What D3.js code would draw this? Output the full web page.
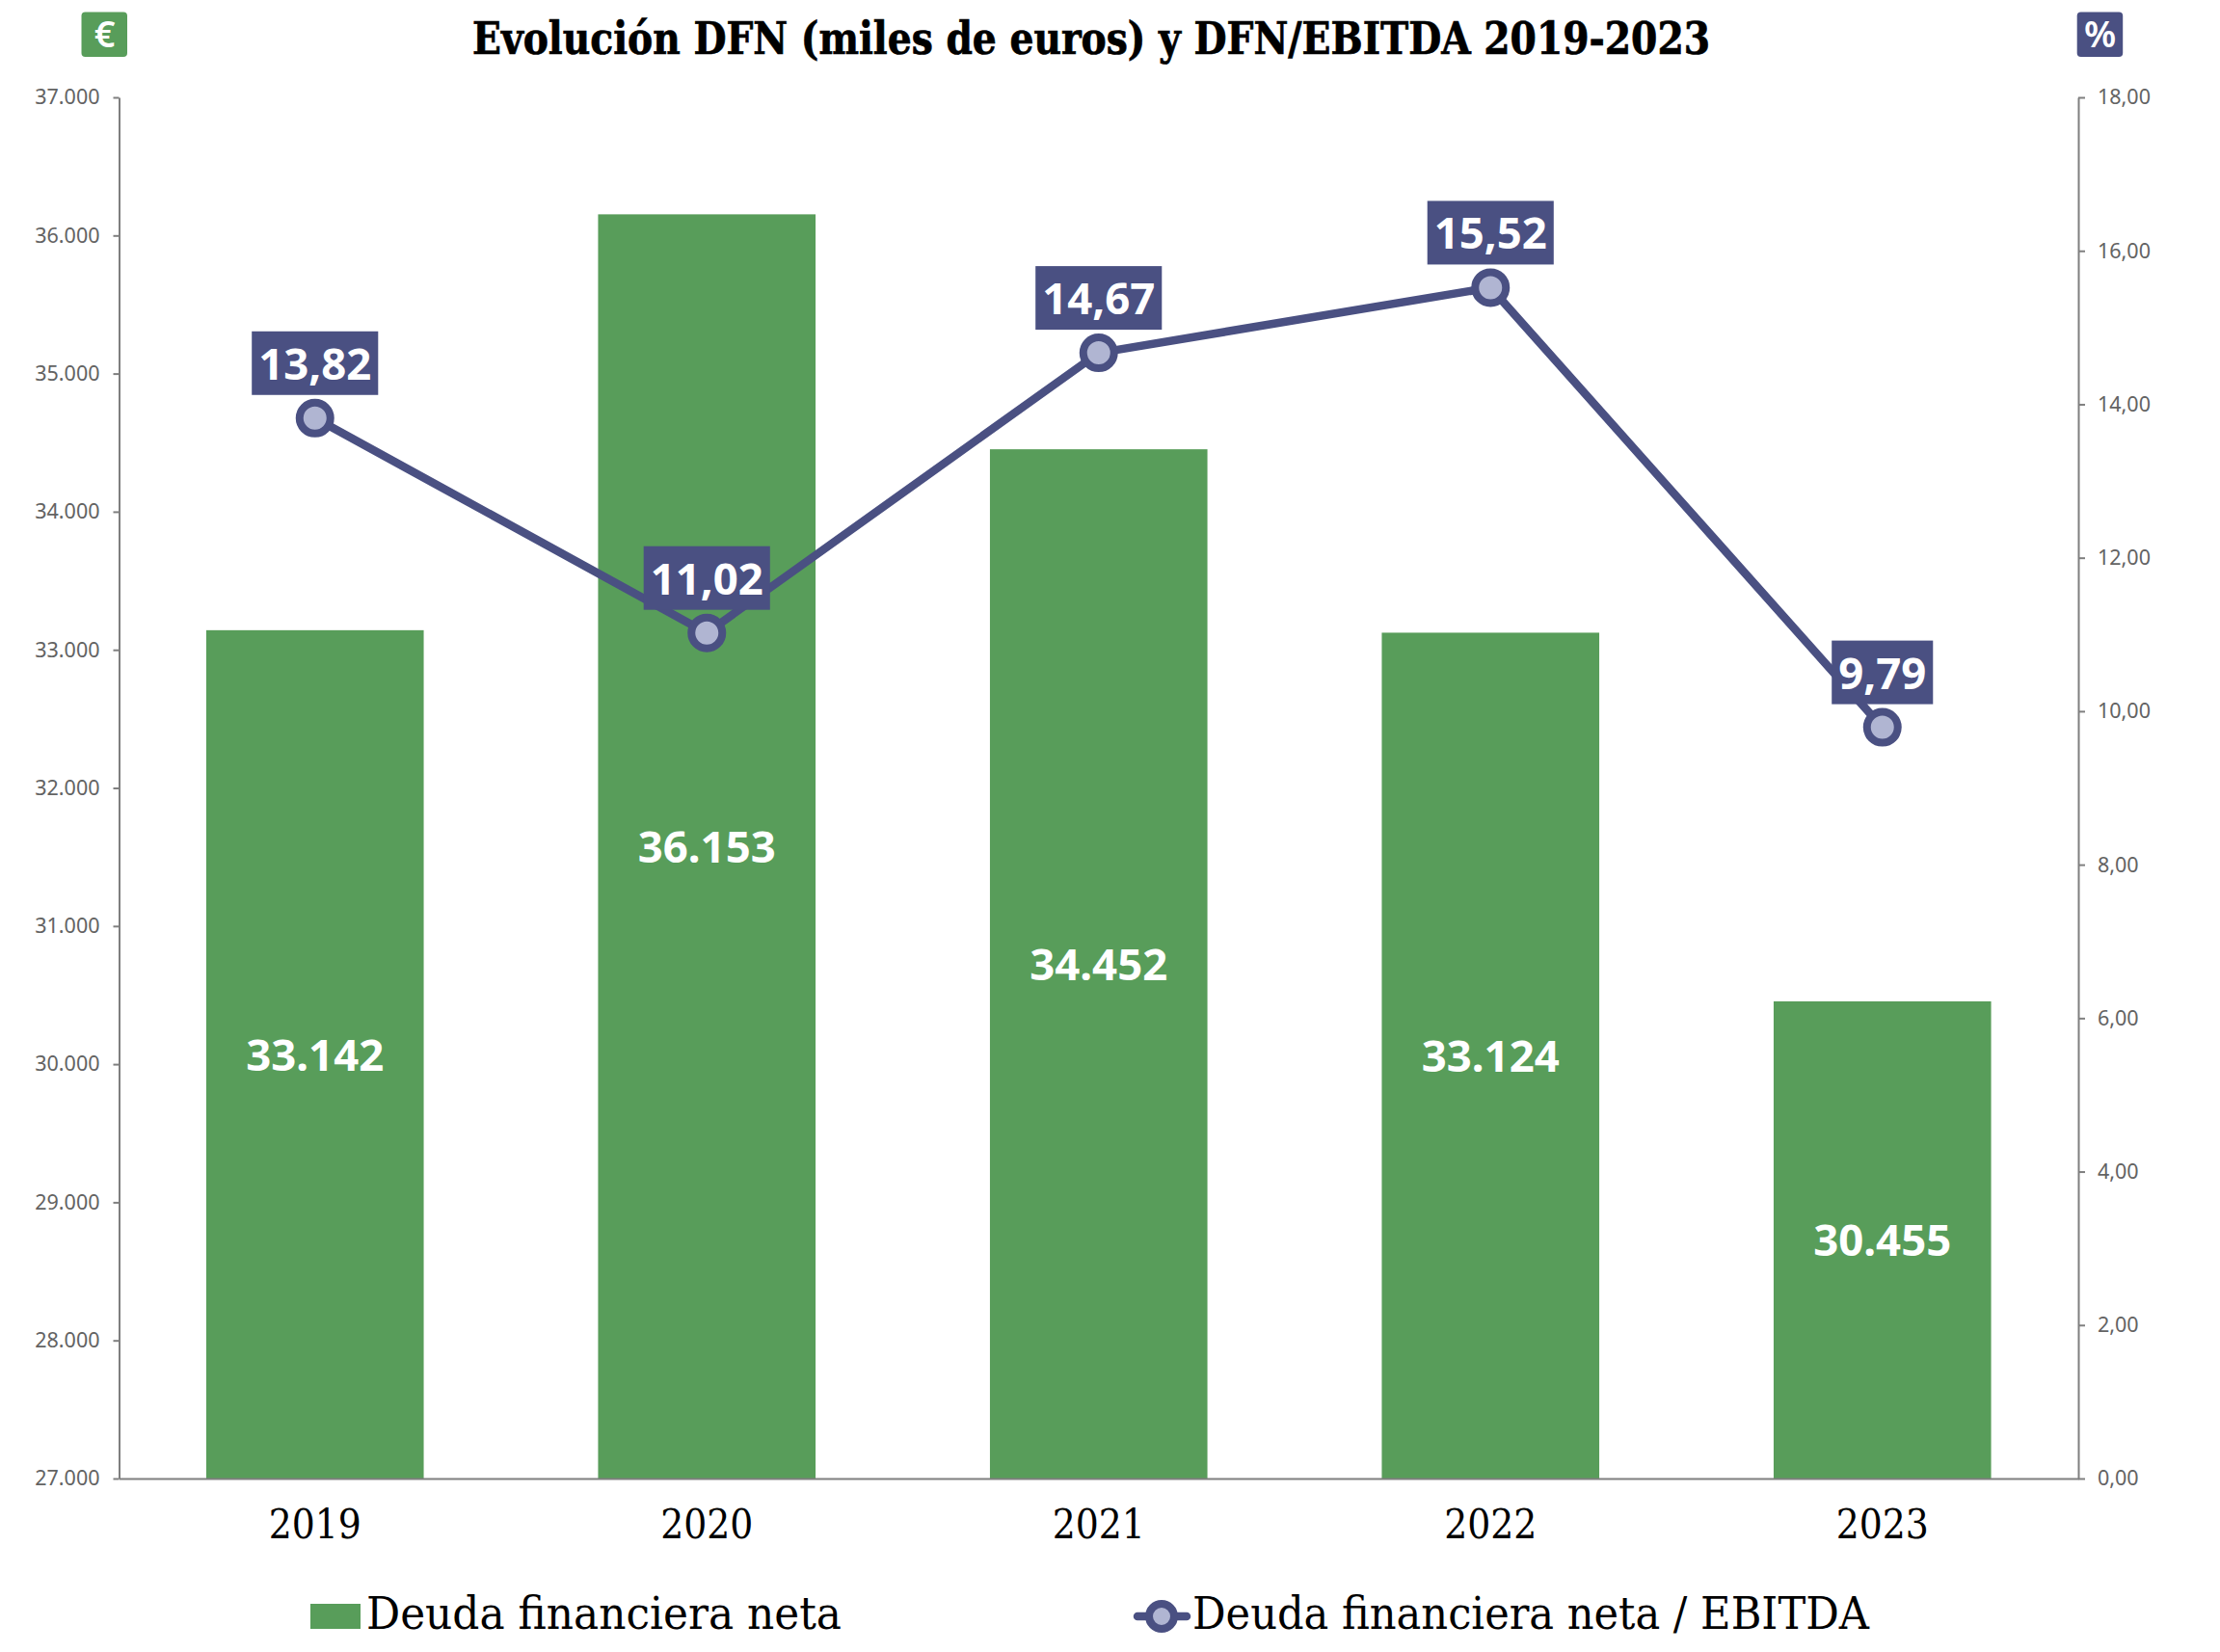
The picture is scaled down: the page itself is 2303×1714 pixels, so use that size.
<!DOCTYPE html>
<html>
<head>
<meta charset="utf-8">
<script src="https://cdn.jsdelivr.net/npm/d3@7"></script>
<style>
html, body { margin: 0; padding: 0; background: #fff; }
svg { display: block; }
</style>
</head>
<body>
<svg id="drawing_region"></svg>
<script>
const years = ["2019", "2020", "2021", "2022", "2023"];
const deuda = [33142, 36153, 34452, 33124, 30455];
const ratio = [13.82, 11.02, 14.67, 15.52, 9.79];
const leftTicks = d3.range(27000, 37001, 1000);
const rightTicks = d3.range(0, 18.01, 2);

const width = 2303, height = 1714;
const margin = { left: 123.5, right: 147, top: 101, bottom: 180 };
const green = "#589d5a", navy = "#4a5082", light = "#b0b5d2", gray = "#7f7f7f";
const slab = "'DejaVu Serif Condensed', 'DejaVu Serif', serif";
const sans = "'Noto Sans', sans-serif";

const es = d3.formatLocale({ decimal: ",", thousands: ".", grouping: [3], currency: ["", " €"] });
const fmtMiles = es.format(",d");
const fmtRatio = es.format(".2f");

const svg = d3.select("#drawing_region").attr("width", width).attr("height", height);

const x = d3.scaleBand().domain(years).range([margin.left, width - margin.right]).paddingInner(0.445).paddingOuter(0.2225);
const yLeft = d3.scaleLinear().domain([27000, 37000]).range([height - margin.bottom, margin.top]);
const yRight = d3.scaleLinear().domain([0, 18]).range([height - margin.bottom, margin.top]);
const cx = d => x(d) + x.bandwidth() / 2;

// barras
svg.selectAll("rect.bar").data(deuda).enter().append("rect")
    .attr("class", "bar")
    .attr("x", (d, i) => x(years[i]))
    .attr("y", d => yLeft(d))
    .attr("width", x.bandwidth())
    .attr("height", d => yLeft(27000) - yLeft(d))
    .attr("fill", green);

svg.selectAll("text.barlabel").data(deuda).enter().append("text")
    .attr("class", "barlabel")
    .attr("x", (d, i) => cx(years[i]))
    .attr("y", d => (yLeft(d) + yLeft(27000)) / 2 + 17)
    .attr("text-anchor", "middle")
    .attr("font-family", sans).attr("font-weight", 700).attr("font-size", 45.5)
    .attr("fill", "#fff")
    .text(d => fmtMiles(d));

// ejes
const axisLeft = svg.append("g").attr("transform", `translate(${margin.left},0)`)
    .call(d3.axisLeft(yLeft).tickValues(leftTicks).tickFormat(fmtMiles).tickSize(6).tickSizeOuter(0).tickPadding(14));
const axisRight = svg.append("g").attr("transform", `translate(${width - margin.right},0)`)
    .call(d3.axisRight(yRight).tickValues(rightTicks).tickFormat(fmtRatio).tickSize(7).tickSizeOuter(0).tickPadding(13));
const axisBottom = svg.append("g").attr("transform", `translate(0,${height - margin.bottom})`)
    .call(d3.axisBottom(x).tickSize(0).tickPadding(32));

[axisLeft, axisRight].forEach(g => {
    g.selectAll("text").attr("font-family", sans).attr("font-size", 21.5).attr("fill", "#636363");
});
[axisLeft, axisRight, axisBottom].forEach(g => {
    g.selectAll("path, line").attr("stroke", gray).attr("stroke-width", 2);
});
axisBottom.selectAll("text").attr("font-family", slab).attr("font-size", 42).attr("fill", "#000");

// linea
const line = d3.line().x((d, i) => cx(years[i])).y(d => yRight(d));
svg.append("path").datum(ratio)
    .attr("d", line)
    .attr("fill", "none")
    .attr("stroke", navy)
    .attr("stroke-width", 8.5)
    .attr("stroke-linejoin", "round");

svg.selectAll("circle.punto").data(ratio).enter().append("circle")
    .attr("class", "punto")
    .attr("cx", (d, i) => cx(years[i]))
    .attr("cy", d => yRight(d))
    .attr("r", 16)
    .attr("fill", light)
    .attr("stroke", navy)
    .attr("stroke-width", 8);

// etiquetas de la linea
const etiquetas = svg.selectAll("g.etiqueta").data(ratio).enter().append("g")
    .attr("class", "etiqueta")
    .attr("transform", (d, i) => `translate(${cx(years[i])},${yRight(d) - 57})`);
etiquetas.append("text")
    .attr("y", 17)
    .attr("text-anchor", "middle")
    .attr("font-family", sans).attr("font-weight", 700).attr("font-size", 45.5)
    .attr("fill", "#fff")
    .text(d => fmtRatio(d));
etiquetas.insert("rect", "text")
    .each(function() {
        const w = this.parentNode.querySelector("text").getComputedTextLength() + 14;
        d3.select(this).attr("x", -w / 2).attr("width", w);
    })
    .attr("y", -33)
    .attr("height", 66)
    .attr("fill", navy);

// titulo
svg.append("text")
    .attr("x", 1132).attr("y", 56)
    .attr("text-anchor", "middle")
    .attr("font-family", slab).attr("font-weight", 700).attr("font-size", 47)
    .attr("textLength", 1284).attr("lengthAdjust", "spacingAndGlyphs")
    .attr("stroke", "#000").attr("stroke-width", 0.7)
    .text("Evolución DFN (miles de euros) y DFN/EBITDA 2019-2023");

// iconos
const iconos = [{ x: 84.5, c: green, t: "€" }, { x: 2154.7, c: navy, t: "%" }];
iconos.forEach(d => {
    svg.append("rect").attr("x", d.x).attr("y", 12.5).attr("width", 47.5).attr("height", 46.5).attr("rx", 4).attr("fill", d.c);
    svg.append("text").attr("x", d.x + 24).attr("y", 49)
        .attr("text-anchor", "middle")
        .attr("font-family", sans).attr("font-weight", 600).attr("font-size", 38)
        .attr("fill", "#fff").text(d.t);
});

// leyenda
svg.append("rect").attr("x", 322).attr("y", 1664).attr("width", 52).attr("height", 26).attr("fill", green);
svg.append("line").attr("x1", 1180).attr("x2", 1231).attr("y1", 1677).attr("y2", 1677)
    .attr("stroke", navy).attr("stroke-width", 8.5).attr("stroke-linecap", "round");
svg.append("circle").attr("cx", 1205).attr("cy", 1677).attr("r", 13)
    .attr("fill", light).attr("stroke", navy).attr("stroke-width", 8);
const leyenda = [
    { x: 380, w: 493, t: "Deuda financiera neta" },
    { x: 1237, w: 702, t: "Deuda financiera neta / EBITDA" }
];
leyenda.forEach(d => {
    svg.append("text").attr("x", d.x).attr("y", 1690)
        .attr("font-family", slab).attr("font-size", 47)
        .attr("textLength", d.w).attr("lengthAdjust", "spacingAndGlyphs")
        .text(d.t);
});
</script>
</body>
</html>
